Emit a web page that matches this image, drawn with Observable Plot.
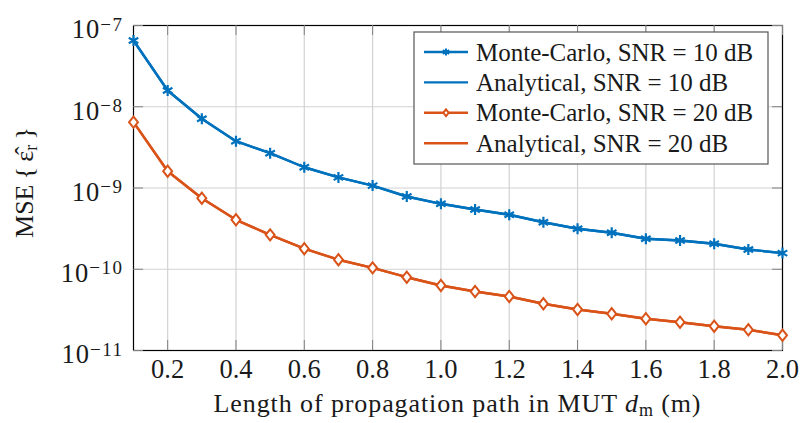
<!DOCTYPE html>
<html>
<head>
<meta charset="utf-8">
<script src="https://cdn.jsdelivr.net/npm/d3@7"></script>
<script src="https://cdn.jsdelivr.net/npm/@observablehq/plot@0.6"></script>
<style>
  body { margin: 0; background: #fff; }
  #chart { width: 800px; height: 423px; }
</style>
</head>
<body>
<div id="chart"></div>
<script>
// Length of the propagation path in the MUT, d_m (m)
const lengths = [0.1, 0.2, 0.3, 0.4, 0.5, 0.6, 0.7, 0.8, 0.9, 1.0,
                 1.1, 1.2, 1.3, 1.4, 1.5, 1.6, 1.7, 1.8, 1.9, 2.0];

// MSE of the estimated relative permittivity
const monteCarlo10 = [6.53e-8, 1.585e-8, 7.11e-9, 3.77e-9, 2.68e-9, 1.80e-9, 1.35e-9, 1.07e-9, 7.86e-10, 6.39e-10,
                      5.43e-10, 4.68e-10, 3.79e-10, 3.15e-10, 2.81e-10, 2.37e-10, 2.26e-10, 2.06e-10, 1.75e-10, 1.58e-10];
const analytical10 = [6.53e-8, 1.585e-8, 7.11e-9, 3.77e-9, 2.68e-9, 1.80e-9, 1.35e-9, 1.07e-9, 7.86e-10, 6.39e-10,
                      5.43e-10, 4.68e-10, 3.79e-10, 3.15e-10, 2.81e-10, 2.37e-10, 2.26e-10, 2.06e-10, 1.75e-10, 1.58e-10];
const monteCarlo20 = [6.46e-9, 1.61e-9, 7.48e-10, 4.06e-10, 2.65e-10, 1.79e-10, 1.31e-10, 1.04e-10, 7.98e-11, 6.31e-11,
                      5.32e-11, 4.62e-11, 3.76e-11, 3.20e-11, 2.83e-11, 2.46e-11, 2.23e-11, 1.99e-11, 1.80e-11, 1.54e-11];
const analytical20 = [6.46e-9, 1.61e-9, 7.48e-10, 4.06e-10, 2.65e-10, 1.79e-10, 1.31e-10, 1.04e-10, 7.98e-11, 6.31e-11,
                      5.32e-11, 4.62e-11, 3.76e-11, 3.20e-11, 2.83e-11, 2.46e-11, 2.23e-11, 1.99e-11, 1.80e-11, 1.54e-11];

const seriesNames = ["Monte-Carlo, SNR = 10 dB", "Analytical, SNR = 10 dB",
                     "Monte-Carlo, SNR = 20 dB", "Analytical, SNR = 20 dB"];
const xTicks = [0.2, 0.4, 0.6, 0.8, 1.0, 1.2, 1.4, 1.6, 1.8, 2.0];
const yTicks = [1e-11, 1e-10, 1e-9, 1e-8, 1e-7];

const BLUE = "#0072BD";
const ORANGE = "#D95319";
const INK = "#1a1a1a";
const FONT = "'Liberation Serif', 'Times New Roman', serif";

// Tall diamond marker (slightly narrower than high)
const tallDiamond = {
  draw(context, size) {
    const r = Math.sqrt(size / Math.PI);
    const w = r * 0.8;
    context.moveTo(0, -r);
    context.lineTo(w, 0);
    context.lineTo(0, r);
    context.lineTo(-w, 0);
    context.closePath();
  }
};

const toRows = (values, series) => lengths.map((d, i) => ({d, mse: values[i], series}));
const mc10 = toRows(monteCarlo10, seriesNames[0]);
const an10 = toRows(analytical10, seriesNames[1]);
const mc20 = toRows(monteCarlo20, seriesNames[2]);
const an20 = toRows(analytical20, seriesNames[3]);

const W = 800, H = 423;
const M = {top: 25, right: 18, bottom: 73, left: 133};
const plotW = W - M.left - M.right;
const plotH = H - M.top - M.bottom;
const tickLen = 10;
const tickStyle = {stroke: "#808080", strokeWidth: 1};

const chart = Plot.plot({
  width: W,
  height: H,
  marginTop: M.top,
  marginRight: M.right,
  marginBottom: M.bottom,
  marginLeft: M.left,
  style: {fontFamily: FONT, fontSize: "26.5px", color: INK, background: "#fff"},
  x: {domain: [0.1, 2.0]},
  y: {type: "log", domain: [1e-11, 1e-7]},
  marks: [
    Plot.gridX(xTicks, {stroke: "#d2d2d2", strokeOpacity: 1, strokeWidth: 1.2}),
    Plot.gridY(yTicks, {stroke: "#d2d2d2", strokeOpacity: 1, strokeWidth: 1.2}),
    Plot.frame({stroke: "#000", strokeWidth: 1.2}),
    // inward tick marks on all four sides
    Plot.tickX(xTicks, {x: d => d, insetTop: plotH - tickLen, ...tickStyle}),
    Plot.tickX(xTicks, {x: d => d, insetBottom: plotH - tickLen, ...tickStyle}),
    Plot.tickY(yTicks, {y: d => d, insetRight: plotW - tickLen, ...tickStyle}),
    Plot.tickY(yTicks, {y: d => d, insetLeft: plotW - tickLen, ...tickStyle}),
    // analytical curves
    Plot.line(an10, {x: "d", y: "mse", stroke: BLUE, strokeWidth: 2.4}),
    Plot.line(an20, {x: "d", y: "mse", stroke: ORANGE, strokeWidth: 2.4}),
    // Monte-Carlo curves with markers
    Plot.line(mc10, {x: "d", y: "mse", stroke: BLUE, strokeWidth: 2.4}),
    Plot.line(mc20, {x: "d", y: "mse", stroke: ORANGE, strokeWidth: 2.4}),
    Plot.dot(mc10, {x: "d", y: "mse", symbol: "asterisk", r: 5.2, stroke: BLUE, strokeWidth: 2.2}),
    Plot.dot(mc20, {x: "d", y: "mse", symbol: tallDiamond, r: 5.6, stroke: ORANGE, fill: "#fff", strokeWidth: 2}),
    Plot.axisX(xTicks, {tickSize: 0, tickPadding: 9, tickFormat: d => d.toFixed(1), label: null}),
    Plot.axisY(yTicks, {tickSize: 0, tickPadding: 10, dy: 4.5,
                        tickFormat: d => `10^${Math.round(Math.log10(d))}`, label: null})
  ]
});

document.getElementById("chart").appendChild(chart);
const svg = d3.select(chart);

// powers of ten with raised exponents
svg.selectAll('g[aria-label="y-axis tick label"] text').each(function () {
  const [base, exp] = this.textContent.split("^");
  const t = d3.select(this);
  t.text(null);
  t.append("tspan").attr("letter-spacing", "1px").text(base);
  t.append("tspan").attr("dy", "-0.42em").attr("font-size", "19px").attr("letter-spacing", "1.5px")
    .text(exp.replace("-", "\u2212"));
});

// x-axis title
const xl = svg.append("text")
  .attr("x", M.left + plotW / 2).attr("y", 412)
  .attr("text-anchor", "middle").attr("fill", INK)
  .attr("font-family", FONT).attr("font-size", 26).attr("letter-spacing", "0.9px");
xl.append("tspan").text("Length of propagation path in MUT ");
xl.append("tspan").attr("font-style", "italic").text("d");
xl.append("tspan").attr("font-size", 18).attr("dy", 4).text("m");
xl.append("tspan").attr("dy", -4).text(" (m)");

// y-axis title
const yl = svg.append("text")
  .attr("transform", `translate(33,${M.top + plotH / 2 - 5}) rotate(-90)`)
  .attr("text-anchor", "middle").attr("fill", INK)
  .attr("font-family", FONT).attr("font-size", 26);
yl.append("tspan").text("MSE\u2009{\u2009\u03B5\u0302");
yl.append("tspan").attr("font-size", 18).attr("dy", 4).text("r");
yl.append("tspan").attr("dy", -4).text("\u2009}");

// legend box
const lg = svg.append("g").attr("font-family", FONT).attr("font-size", 25)
  .attr("fill", INK).attr("text-anchor", "start");
lg.append("rect").attr("x", 414).attr("y", 32).attr("width", 354).attr("height", 132)
  .attr("fill", "#fff").attr("stroke", "#555").attr("stroke-width", 1.2);
const legendItems = [
  {name: seriesNames[0], color: BLUE, symbol: d3.symbolAsterisk, fill: "none"},
  {name: seriesNames[1], color: BLUE, symbol: null},
  {name: seriesNames[2], color: ORANGE, symbol: tallDiamond, fill: "#fff"},
  {name: seriesNames[3], color: ORANGE, symbol: null}
];
legendItems.forEach((item, i) => {
  const cy = 52 + i * 30.4;
  lg.append("line").attr("x1", 424).attr("x2", 468).attr("y1", cy).attr("y2", cy)
    .attr("stroke", item.color).attr("stroke-width", 2.4);
  if (item.symbol) {
    lg.append("path").attr("transform", `translate(446,${cy})`)
      .attr("d", d3.symbol(item.symbol, Math.PI * 3.4 * 3.4)())
      .attr("fill", item.fill).attr("stroke", item.color).attr("stroke-width", 2);
  }
  lg.append("text").attr("x", 476).attr("y", cy + 8.5).text(item.name);
});
</script>
</body>
</html>
